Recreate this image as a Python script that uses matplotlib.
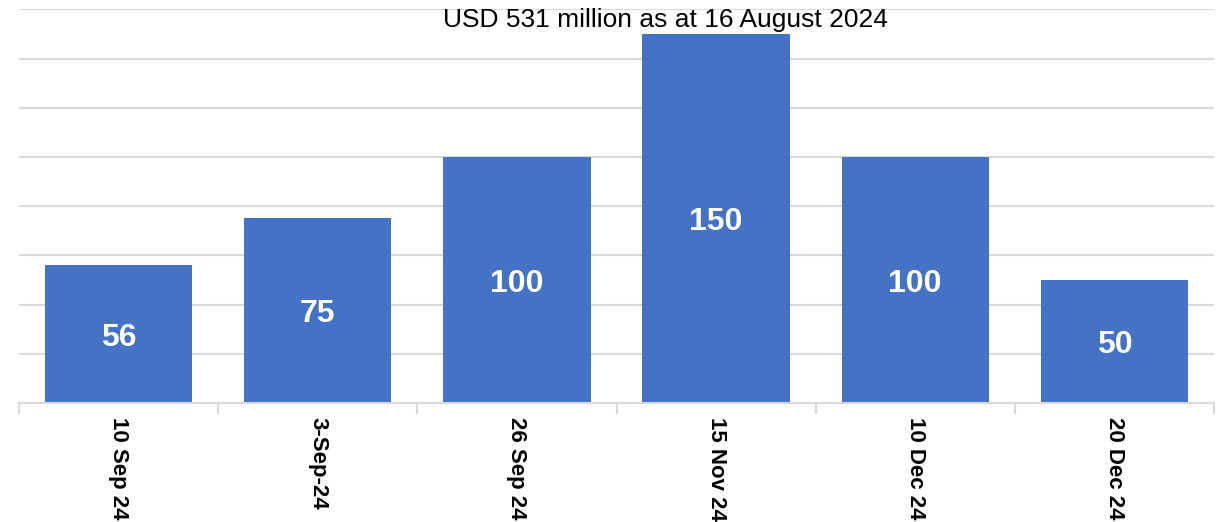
import matplotlib
matplotlib.use("Agg")
import matplotlib.pyplot as plt
import numpy as np

# data
categories = ["10 Sep 24", "3-Sep-24", "26 Sep 24", "15 Nov 24", "10 Dec 24", "20 Dec 24"]
amounts = [56, 75, 100, 150, 100, 50]
title = "USD 531 million as at 16 August 2024"

plt.rcParams['font.family'] = ['Liberation Sans', 'DejaVu Sans']

W, H = 1216, 522
fig = plt.figure(figsize=(W / 100, H / 100), dpi=100)
ax = fig.add_axes([19 / W, 1 - 403 / H, (1214 - 19) / W, (403 - 9.4) / H])

x = np.arange(len(categories))
bars = ax.bar(x, amounts, width=0.74, color="#4472C4", zorder=2)

for b, v in zip(bars, amounts):
    ax.text(b.get_x() + b.get_width() / 2, v / 2, str(v), ha="center", va="center_baseline",
            color="white", fontsize=23, fontweight="bold", zorder=3)

ax.set_xlim(-0.5, len(categories) - 0.5)
ax.set_ylim(0, 160)
ax.set_yticks(np.arange(0, 161, 20))
ax.yaxis.grid(True, color="#d9d9d9", linewidth=1.5, zorder=0)
ax.tick_params(axis="y", length=0, labelleft=False)

for s in ["top", "right", "left"]:
    ax.spines[s].set_visible(False)
ax.spines["bottom"].set_color("#d9d9d9")
ax.spines["bottom"].set_linewidth(1.5)

ax.set_xticks(x)
ax.set_xticklabels(categories, rotation=-90, fontsize=16, fontweight="bold", va="top", ha="center")
ax.set_xticks(np.arange(-0.5, len(categories), 1), minor=True)
ax.tick_params(axis="x", which="major", length=0, pad=10)
ax.tick_params(axis="x", which="minor", length=8, width=1.5, color="#d9d9d9")

fig.text(665 / W, 1 - 19.5 / H, title, ha="center", va="center", fontsize=19, color="black")

fig.savefig("out.png", dpi=100)
